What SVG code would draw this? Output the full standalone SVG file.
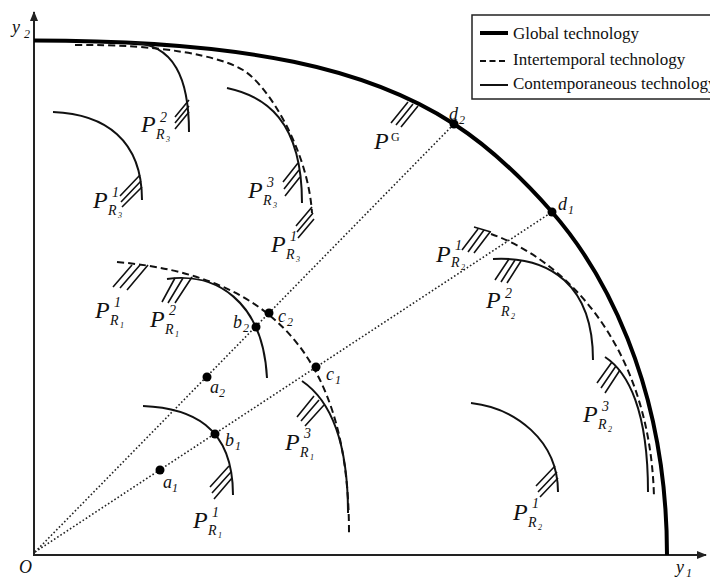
<svg xmlns="http://www.w3.org/2000/svg" width="710" height="579" viewBox="0 0 710 579">
<defs>
<style>
.ax{stroke:#222;stroke-width:2;fill:none}
.glob{stroke:#000;stroke-width:4;fill:none;stroke-linecap:butt}
.sol{stroke:#111;stroke-width:2;fill:none}
.dash{stroke:#111;stroke-width:2;fill:none;stroke-dasharray:7 4}
.ray{stroke:#222;stroke-width:1.6;fill:none;stroke-dasharray:1.6 2.2}
.hat{stroke:#111;stroke-width:1.6;fill:none}
.t{font-family:"Liberation Serif","Times New Roman",serif;font-style:italic;fill:#111}
.P{font-size:24px}
.s{font-size:14px}
.ss{font-size:8px}
.pt{font-size:18px}
.sb{font-size:12px}
.leg{font-family:"Liberation Serif","Times New Roman",serif;font-size:17px;fill:#111}
.dot{fill:#000}
</style>
<marker id="arr" viewBox="0 0 10 10" refX="9" refY="5" markerWidth="10" markerHeight="10" markerUnits="userSpaceOnUse" orient="auto">
<path d="M0,1 L10,5 L0,9 Z" fill="#222"/>
</marker>
</defs>
<rect width="710" height="579" fill="#fff"/>

<g id="axes">
<line class="ax" x1="34" y1="555" x2="34" y2="12" marker-end="url(#arr)"/>
<line class="ax" x1="33" y1="555" x2="706" y2="555" marker-end="url(#arr)"/>
<text class="t"><tspan x="12" y="33" font-size="18">y</tspan><tspan class="sb" x="24" y="38">2</tspan></text>
<text class="t"><tspan x="676" y="573" font-size="18">y</tspan><tspan class="sb" x="686" y="577">1</tspan></text>
<text class="t" x="19" y="573" font-size="18">O</text>
</g>

<g id="legend">
<rect x="472" y="15" width="250" height="84" fill="#fff" stroke="#222" stroke-width="1.5"/>
<line x1="480" y1="33" x2="508" y2="33" stroke="#000" stroke-width="4"/>
<line x1="480" y1="61" x2="508" y2="61" stroke="#111" stroke-width="2" stroke-dasharray="6 3.5"/>
<line x1="480" y1="85" x2="508" y2="85" stroke="#111" stroke-width="2"/>
<text class="leg" x="513" y="39">Global technology</text>
<text class="leg" x="513" y="65">Intertemporal technology</text>
<text class="leg" x="513" y="89">Contemporaneous technology</text>
</g>

<g id="connectors">
<line class="ray" x1="35" y1="552" x2="454" y2="124"/>
<line class="ray" x1="35" y1="552" x2="552" y2="212"/>
</g>

<g id="global">
<path class="glob" d="M34,40.5 C250,40.5 370,69.5 454,124 C491,148 523,179 552,212 C600,267 667,380 667,555"/>
<path class="hat" d="M408,102 L391,123 M413,104 L396,125 M418,106 L401,127"/>
<text class="t"><tspan class="P" x="374" y="149">P</tspan><tspan x="391" y="141" font-size="12" font-style="normal">G</tspan></text>
</g>

<g id="R3-inter">
<path class="dash" d="M75,45 C160,44 220,56 243,70 C268,85 308,150 312,213"/>
<path class="hat" d="M312,207 L296,226 M313,213 L297,232 M314,219 L298,238"/>
<text class="t"><tspan class="P" x="271" y="252">P</tspan><tspan class="s" x="290" y="241">1</tspan><tspan class="s" x="286" y="259">R</tspan><tspan class="ss" x="296" y="262">3</tspan></text>
</g>
<g id="R3-c1">
<path class="sol" d="M53,112 C105,114 142,140 142,200"/>
<path class="hat" d="M140,175 L120,196 M141,181 L121,202 M142,187 L122,207"/>
<text class="t"><tspan class="P" x="93" y="208">P</tspan><tspan class="s" x="112" y="197">1</tspan><tspan class="s" x="108" y="215">R</tspan><tspan class="ss" x="118" y="218">3</tspan></text>
</g>
<g id="R3-c2">
<path class="sol" d="M130,42.5 C175,43 189,80 189,132"/>
<path class="hat" d="M189,100 L175,117 M189,106 L175,123 M189,112 L175,129"/>
<text class="t"><tspan class="P" x="141" y="132">P</tspan><tspan class="s" x="160" y="122">2</tspan><tspan class="s" x="156" y="139">R</tspan><tspan class="ss" x="166" y="142">3</tspan></text>
</g>
<g id="R3-c3">
<path class="sol" d="M227,88 C265,96 302,120 302,203"/>
<path class="hat" d="M298,163 L283,182 M299,170 L284,189 M300,177 L285,196"/>
<text class="t"><tspan class="P" x="248" y="198">P</tspan><tspan class="s" x="267" y="187">3</tspan><tspan class="s" x="263" y="205">R</tspan><tspan class="ss" x="273" y="208">3</tspan></text>
</g>

<g id="R1-inter">
<path class="dash" d="M117,262 C270,275 349,354 349,533"/>
<path class="hat" d="M132,265 L113,287 M140,265 L120,288 M148,265 L127,290"/>
<text class="t"><tspan class="P" x="95" y="318">P</tspan><tspan class="s" x="114" y="307">1</tspan><tspan class="s" x="110" y="325">R</tspan><tspan class="ss" x="120" y="328">1</tspan></text>
</g>
<g id="R1-c1">
<path class="sol" d="M143,406 C190,408 233,425 233,495"/>
<path class="hat" d="M229,466 L210,487 M231,472 L212,493 M232,478 L214,499"/>
<text class="t"><tspan class="P" x="193" y="528">P</tspan><tspan class="s" x="212" y="517">1</tspan><tspan class="s" x="208" y="535">R</tspan><tspan class="ss" x="218" y="538">1</tspan></text>
</g>
<g id="R1-c2">
<path class="sol" d="M167,279 C215,272 263,300 267,378"/>
<path class="hat" d="M175,278 L162,302 M183,278 L168,303 M192,277 L175,303"/>
<text class="t"><tspan class="P" x="150" y="327">P</tspan><tspan class="s" x="169" y="315">2</tspan><tspan class="s" x="165" y="334">R</tspan><tspan class="ss" x="175" y="337">1</tspan></text>
</g>
<g id="R1-c3">
<path class="sol" d="M302,381 C330,400 348,440 348,513"/>
<path class="hat" d="M314,396 L297,417 M319,400 L301,421 M324,405 L305,426"/>
<text class="t"><tspan class="P" x="285" y="450">P</tspan><tspan class="s" x="304" y="438">3</tspan><tspan class="s" x="300" y="457">R</tspan><tspan class="ss" x="310" y="460">1</tspan></text>
</g>

<g id="R2-inter">
<path class="dash" d="M491,234 C560,258 650,340 654,497"/>
<path class="hat" d="M474,227 L491,232 M478,229 L462,250 M484,230 L468,252 M490,232 L474,253"/>
<text class="t"><tspan class="P" x="436" y="262">P</tspan><tspan class="s" x="455" y="250">1</tspan><tspan class="s" x="451" y="267">R</tspan><tspan class="ss" x="461" y="270">2</tspan></text>
</g>
<g id="R2-c1">
<path class="sol" d="M471,403 C515,408 558,440 558,492"/>
<path class="hat" d="M555,466 L536,486 M557,472 L538,492 M558,478 L540,497"/>
<text class="t"><tspan class="P" x="513" y="520">P</tspan><tspan class="s" x="532" y="508">1</tspan><tspan class="s" x="528" y="527">R</tspan><tspan class="ss" x="538" y="530">2</tspan></text>
</g>
<g id="R2-c2">
<path class="sol" d="M493,259 C550,256 593,285 593,360"/>
<path class="hat" d="M509,259 L495,280 M515,260 L501,282 M521,261 L507,283"/>
<text class="t"><tspan class="P" x="486" y="308">P</tspan><tspan class="s" x="505" y="298">2</tspan><tspan class="s" x="501" y="316">R</tspan><tspan class="ss" x="511" y="319">2</tspan></text>
</g>
<g id="R2-c3">
<path class="sol" d="M605,357 C628,372 648,410 648,492"/>
<path class="hat" d="M612,362 L597,383 M616,366 L601,388 M620,370 L605,393"/>
<text class="t"><tspan class="P" x="583" y="422">P</tspan><tspan class="s" x="602" y="411">3</tspan><tspan class="s" x="598" y="429">R</tspan><tspan class="ss" x="608" y="432">2</tspan></text>
</g>

<g id="points">
<circle class="dot" cx="454" cy="124" r="4.5"/><text class="t"><tspan class="pt" x="449" y="120">d</tspan><tspan class="sb" x="459" y="124">2</tspan></text>
<circle class="dot" cx="552" cy="212" r="4.5"/><text class="t"><tspan class="pt" x="558" y="210">d</tspan><tspan class="sb" x="568" y="214">1</tspan></text>
<circle class="dot" cx="269" cy="313" r="4.5"/><text class="t"><tspan class="pt" x="278" y="322">c</tspan><tspan class="sb" x="287" y="326">2</tspan></text>
<circle class="dot" cx="256" cy="327" r="4.5"/><text class="t"><tspan class="pt" x="233" y="328">b</tspan><tspan class="sb" x="243" y="332">2</tspan></text>
<circle class="dot" cx="207" cy="377" r="4.5"/><text class="t"><tspan class="pt" x="210" y="393">a</tspan><tspan class="sb" x="219" y="397">2</tspan></text>
<circle class="dot" cx="316" cy="367" r="4.5"/><text class="t"><tspan class="pt" x="326" y="380">c</tspan><tspan class="sb" x="335" y="384">1</tspan></text>
<circle class="dot" cx="215" cy="434" r="4.5"/><text class="t"><tspan class="pt" x="225" y="446">b</tspan><tspan class="sb" x="235" y="450">1</tspan></text>
<circle class="dot" cx="160" cy="470" r="4.5"/><text class="t"><tspan class="pt" x="163" y="488">a</tspan><tspan class="sb" x="172" y="492">1</tspan></text>
</g>
</svg>
